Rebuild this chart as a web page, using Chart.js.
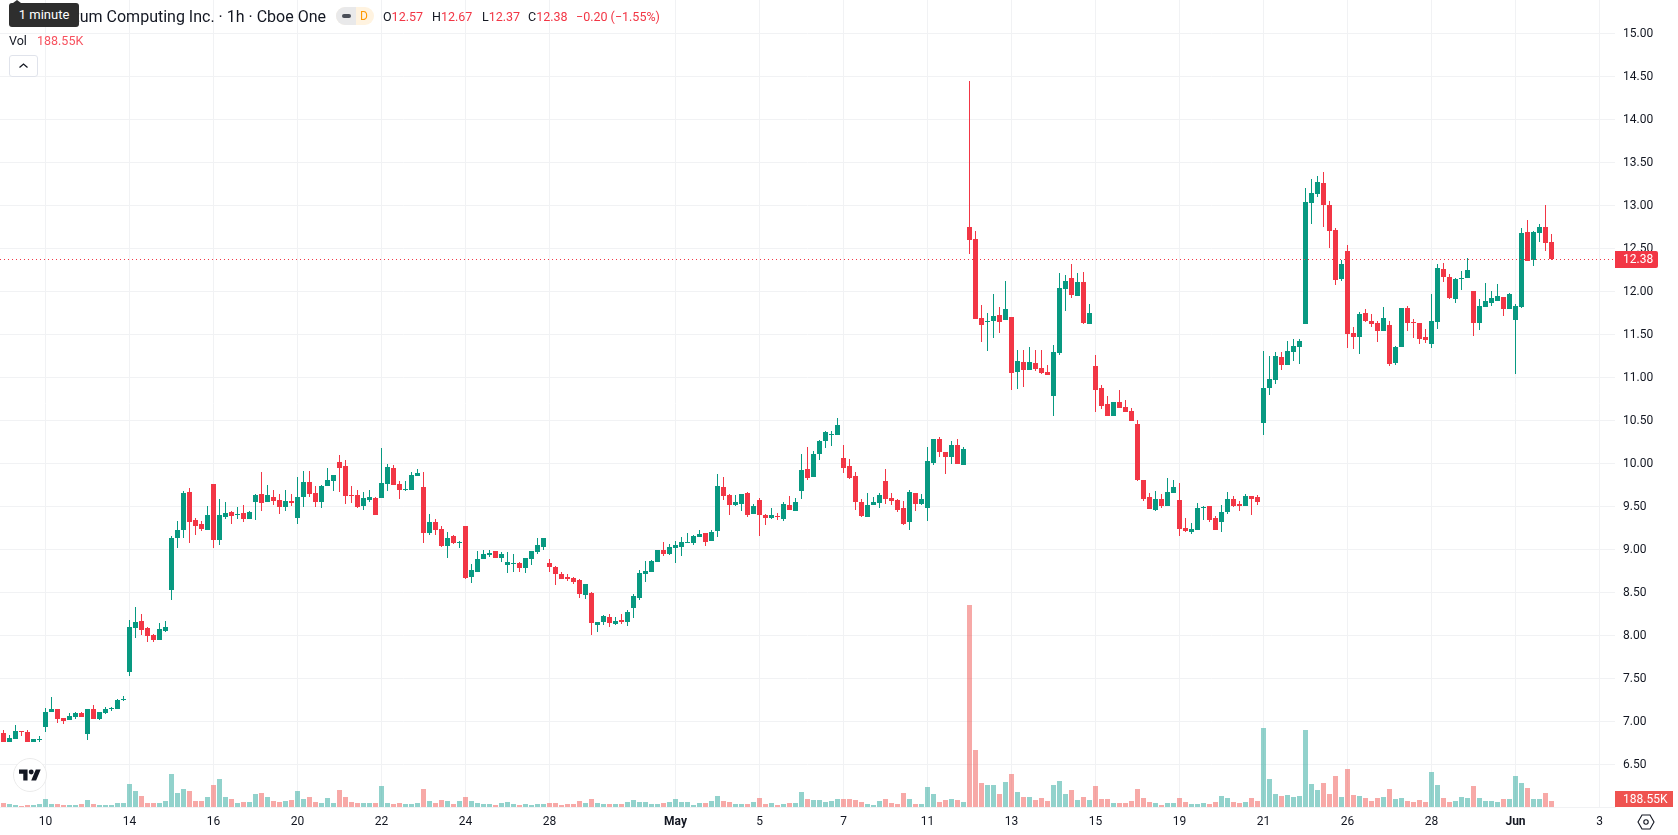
<!DOCTYPE html>
<html>
<head>
<meta charset="utf-8">
<title>Quantum Computing Inc. 1h</title>
<script src="https://cdn.jsdelivr.net/npm/chart.js@4"></script>
<style>
    html, body { margin: 0; padding: 0; background: #fff; }
    body { width: 1678px; height: 835px; position: relative; overflow: hidden; font-family: Roboto, sans-serif; color: #131722; }
    canvas { position: absolute; left: 0; top: 0; }
    .txt { position: absolute; white-space: nowrap; line-height: 16px; }
    .red { color: #f23645; }
    #title { right: 1352px; top: 9px; font-size: 16px; }
    #tip { position: absolute; left: 9px; top: 3px; width: 70px; height: 24px; background: #2e2e2e; border-radius: 3px; color: #fff; font-size: 13px; line-height: 24px; text-align: center; }
    #tipArrow { position: absolute; left: 13px; top: 0; border: 4px solid transparent; border-top: 0; border-bottom: 3px solid #2e2e2e; }
    #pill { position: absolute; left: 336px; top: 7px; width: 38px; height: 18px; border-radius: 9px; overflow: hidden; background: #fff3e0; }
    #pillLeft { position: absolute; left: 0; top: 0; width: 20px; height: 18px; background: #e9e9ea; }
    #pillMinus { position: absolute; left: 6px; top: 7px; width: 9px; height: 4px; border-radius: 2px; background: #4a4e58; }
    #pillD { position: absolute; left: 24px; top: 1px; font-size: 12px; line-height: 16px; color: #ff9800; }
    #chevron { position: absolute; left: 9px; top: 55px; width: 27px; height: 20px; border: 1px solid #e0e3eb; border-radius: 3px; background: #fff; }
    #logo { position: absolute; left: 13px; top: 758px; width: 32px; height: 32px; border: 1px solid #ebebeb; border-radius: 50%; background: #fff; }
    #gear { position: absolute; left: 1637px; top: 814px; }
</style>
</head>
<body>
<canvas id="candleChart" width="1678" height="835"></canvas>

<div class="txt" id="title">Quantum Computing Inc. · 1h · Cboe One</div>
<div id="tipArrow"></div>
<div id="tip">1 minute</div>
<div id="pill"><div id="pillLeft"><div id="pillMinus"></div></div><div id="pillD">D</div></div>
<div class="txt" style="left:383px;top:9px;font-size:12.5px">O<span class="red">12.57</span></div>
<div class="txt" style="left:432px;top:9px;font-size:12.5px">H<span class="red">12.67</span></div>
<div class="txt" style="left:482px;top:9px;font-size:12.5px">L<span class="red">12.37</span></div>
<div class="txt" style="left:528px;top:9px;font-size:12.5px">C<span class="red">12.38</span></div>
<div class="txt red" style="left:576px;top:9px;font-size:12.5px">−0.20 (−1.55%)</div>
<div class="txt" style="left:9px;top:33px;font-size:12.5px">Vol</div>
<div class="txt" style="left:37px;top:33px;font-size:12.5px;color:#f7525f">188.55K</div>
<div id="chevron">
    <svg width="27" height="20" viewBox="0 0 27 20"><path d="M9.5 11.5 L13.5 8 L17.5 11.5" fill="none" stroke="#131722" stroke-width="1.3"/></svg>
</div>
<div id="logo">
    <svg style="position:absolute;left:5px;top:10px" width="22" height="12" viewBox="0 4 36 18"><path d="M14 22H7V11H0V4h14v18zM28 22h-8l7.5-18h8L28 22z" fill="#131722"/><circle cx="20" cy="8" r="4" fill="#131722"/></svg>
</div>
<svg id="gear" width="18" height="16" viewBox="0 0 18 16">
    <path d="M5 1 H13 L17 8 L13 15 H5 L1 8 Z" fill="none" stroke="#131722" stroke-width="1.1"/>
    <circle cx="9" cy="8" r="2.2" fill="none" stroke="#131722" stroke-width="1.1"/>
</svg>

<script>
// One-hour candles, oldest first
const opens = [
    6.86,6.76,6.79,6.89,6.88,6.76,6.79,6.93,7.11,7.14,
    7.04,7.02,7.05,7.10,6.85,7.14,7.03,7.10,7.14,7.14,
    7.25,7.57,8.09,8.17,8.09,8.00,7.95,8.05,8.53,9.13,
    9.22,9.67,9.34,9.29,9.22,9.76,9.11,9.38,9.43,9.40,
    9.42,9.35,9.55,9.64,9.55,9.61,9.57,9.49,9.56,9.37,
    9.61,9.78,9.655,9.55,9.74,9.79,10.02,9.97,9.63,9.63,
    9.50,9.57,9.60,9.60,9.76,9.95,9.76,9.69,9.69,9.85,
    9.725,9.19,9.32,9.24,9.04,9.155,9.07,9.27,8.68,8.74,
    8.89,8.93,8.98,8.90,8.82,8.83,8.84,8.78,8.89,8.97,
    9.03,8.84,8.79,8.71,8.68,8.67,8.64,8.47,8.49,8.12,
    8.155,8.21,8.13,8.18,8.155,8.32,8.43,8.71,8.74,8.85,
    8.99,8.945,9.015,9.03,9.075,9.075,9.145,9.19,9.10,9.21,
    9.725,9.63,9.515,9.53,9.655,9.41,9.575,9.40,9.365,9.39,
    9.35,9.515,9.445,9.68,9.935,9.84,10.11,10.26,10.33,10.33,
    10.06,9.97,9.85,9.55,9.375,9.515,9.54,9.795,9.60,9.575,
    9.48,9.32,9.655,9.53,9.48,10.0,10.28,10.13,10.07,10.21,
    9.98,12.75,12.61,11.69,11.645,11.655,11.725,11.665,11.70,11.06,
    11.18,11.085,11.165,11.11,11.06,10.78,11.285,12.03,12.155,11.945,
    12.11,11.62,11.13,10.875,10.69,10.55,10.71,10.655,10.61,10.46,
    9.805,9.61,9.455,9.585,9.505,9.655,9.575,9.25,9.20,9.225,
    9.48,9.505,9.365,9.32,9.435,9.585,9.53,9.505,9.62,9.61,
    10.47,10.875,10.97,11.235,11.145,11.295,11.35,11.62,13.03,13.13,
    13.26,13.005,12.715,12.145,12.47,11.515,11.47,11.75,11.655,11.63,
    11.54,11.61,11.165,11.35,11.805,11.64,11.63,11.47,11.39,11.645,
    12.26,12.165,11.91,12.145,12.155,12.005,11.63,11.82,11.865,11.89,
    11.935,11.795,11.665,11.82,12.69,12.365,12.68,12.75,12.57
];
const highs = [
    6.90,6.84,6.96,6.89,6.90,6.79,6.83,7.16,7.28,7.14,
    7.04,7.10,7.11,7.11,7.14,7.19,7.11,7.17,7.17,7.26,
    7.29,8.18,8.33,8.25,8.10,8.02,8.14,8.17,9.15,9.33,
    9.68,9.71,9.36,9.33,9.50,9.76,9.59,9.55,9.45,9.49,
    9.52,9.45,9.64,9.90,9.75,9.69,9.64,9.69,9.64,9.84,
    9.91,9.91,9.74,9.75,9.95,9.86,10.10,10.04,9.74,9.69,
    9.67,9.69,9.61,10.18,9.99,9.98,9.79,9.79,9.90,9.93,
    9.90,9.41,9.35,9.27,9.20,9.17,9.10,9.27,8.83,8.98,
    8.99,8.99,8.98,8.97,8.97,8.95,8.85,8.90,8.98,9.13,
    9.13,8.89,8.81,8.735,8.71,8.68,8.655,8.60,8.50,8.155,
    8.24,8.25,8.21,8.25,8.29,8.48,8.76,8.865,8.875,8.99,
    9.085,9.06,9.10,9.145,9.19,9.165,9.225,9.19,9.225,9.875,
    9.84,9.645,9.63,9.645,9.67,9.53,9.60,9.41,9.48,9.42,
    9.55,9.62,9.60,10.11,10.19,10.145,10.27,10.375,10.375,10.53,
    10.21,10.05,9.90,9.585,9.655,9.61,9.655,9.935,9.655,9.585,
    9.56,9.69,9.655,9.645,10.19,10.28,10.31,10.13,10.26,10.28,
    10.19,14.445,12.70,11.84,11.75,11.97,11.82,12.12,11.70,11.32,
    11.32,11.355,11.32,11.32,11.14,11.375,12.21,12.19,12.32,12.21,
    12.225,11.85,11.26,10.91,10.78,10.71,10.85,10.735,10.645,10.505,
    9.805,9.655,9.68,9.645,9.83,9.805,9.77,9.365,9.305,9.54,
    9.505,9.505,9.39,9.515,9.665,9.62,9.56,9.645,9.62,9.63,
    11.305,11.25,11.295,11.295,11.42,11.445,11.445,13.20,13.31,13.34,
    13.39,13.05,12.735,12.365,12.54,11.585,11.76,11.795,11.735,11.655,
    11.82,11.655,11.365,11.805,11.83,11.68,11.63,11.56,11.97,12.32,
    12.33,12.20,12.155,12.235,12.39,12.005,11.91,12.095,12.005,12.085,
    11.935,11.98,11.85,12.735,12.83,12.70,12.78,13.00,12.67
];
const lows = [
    6.76,6.76,6.79,6.83,6.76,6.76,6.76,6.88,7.11,6.98,
    6.97,7.02,7.03,7.05,6.78,7.03,7.02,7.09,7.12,7.14,
    7.24,7.53,7.97,8.00,7.92,7.92,7.95,8.04,8.41,9.02,
    9.13,9.07,9.17,9.21,9.22,9.02,9.05,9.35,9.29,9.35,
    9.32,9.35,9.34,9.44,9.55,9.51,9.41,9.45,9.50,9.29,
    9.49,9.61,9.49,9.48,9.74,9.68,9.67,9.53,9.54,9.48,
    9.46,9.55,9.40,9.60,9.68,9.75,9.585,9.68,9.69,9.85,
    9.07,9.17,9.17,9.03,8.90,9.06,9.02,8.655,8.61,8.74,
    8.89,8.91,8.90,8.85,8.725,8.735,8.735,8.725,8.82,8.95,
    8.99,8.735,8.585,8.655,8.63,8.60,8.43,8.42,8.00,8.04,
    8.12,8.10,8.12,8.13,8.11,8.205,8.41,8.62,8.74,8.85,
    8.92,8.935,8.84,8.92,9.075,9.05,9.145,9.04,9.10,9.145,
    9.575,9.40,9.505,9.445,9.375,9.41,9.155,9.28,9.35,9.34,
    9.33,9.46,9.445,9.585,9.805,9.84,10.04,10.18,10.20,10.33,
    9.89,9.82,9.455,9.375,9.375,9.515,9.48,9.53,9.515,9.435,
    9.28,9.225,9.445,9.515,9.33,9.98,10.07,9.875,9.99,9.99,
    9.98,12.435,11.68,11.41,11.31,11.46,11.515,11.665,10.855,10.865,
    10.89,11.085,11.07,11.04,11.03,10.55,11.26,11.77,11.92,11.945,
    11.62,11.62,10.60,10.63,10.55,10.55,10.645,10.60,10.49,9.795,
    9.56,9.47,9.445,9.48,9.505,9.655,9.155,9.20,9.18,9.225,
    9.34,9.32,9.225,9.20,9.41,9.49,9.445,9.505,9.40,9.515,
    10.33,10.795,10.92,11.085,11.145,11.19,11.155,11.62,12.78,13.10,
    12.75,12.50,12.07,12.12,11.34,11.33,11.27,11.645,11.585,11.41,
    11.54,11.13,11.145,11.35,11.54,11.46,11.39,11.40,11.34,11.56,
    12.11,11.91,11.865,12.015,12.155,11.48,11.55,11.82,11.83,11.89,
    11.71,11.795,11.04,11.805,12.35,12.295,12.57,12.47,12.37
];
const closes = [
    6.76,6.81,6.89,6.88,6.76,6.79,6.80,7.11,7.14,7.03,
    7.00,7.06,7.10,7.05,7.14,7.03,7.11,7.14,7.155,7.25,
    7.26,8.10,8.16,8.06,7.99,7.95,8.07,8.10,9.13,9.22,
    9.65,9.32,9.27,9.24,9.40,9.11,9.40,9.42,9.39,9.41,
    9.35,9.43,9.63,9.54,9.63,9.56,9.49,9.56,9.54,9.61,
    9.78,9.64,9.55,9.74,9.81,9.86,9.95,9.62,9.62,9.49,
    9.60,9.61,9.40,9.77,9.96,9.75,9.69,9.70,9.865,9.89,
    9.19,9.32,9.225,9.04,9.13,9.07,9.085,8.67,8.76,8.89,
    8.95,8.96,8.90,8.945,8.85,8.84,8.78,8.90,8.98,9.05,
    9.13,8.79,8.71,8.655,8.655,8.62,8.48,8.60,8.14,8.155,
    8.23,8.14,8.17,8.155,8.27,8.46,8.725,8.75,8.865,8.99,
    8.945,9.03,9.05,9.085,9.085,9.155,9.18,9.085,9.20,9.735,
    9.62,9.515,9.55,9.645,9.40,9.505,9.40,9.365,9.40,9.385,
    9.53,9.46,9.55,9.92,9.83,10.11,10.26,10.36,10.34,10.445,
    9.945,9.83,9.55,9.39,9.515,9.55,9.63,9.585,9.56,9.455,
    9.295,9.665,9.53,9.585,10.03,10.28,10.13,10.07,10.21,9.99,
    10.165,12.60,11.68,11.61,11.655,11.715,11.645,11.795,11.05,11.19,
    11.085,11.18,11.095,11.05,11.03,11.295,12.04,12.12,11.96,12.11,
    11.63,11.75,10.855,10.67,10.55,10.71,10.645,10.60,10.49,9.805,
    9.585,9.47,9.585,9.505,9.665,9.725,9.235,9.215,9.235,9.48,
    9.49,9.34,9.225,9.435,9.585,9.505,9.505,9.62,9.585,9.55,
    10.875,10.98,11.25,11.145,11.305,11.365,11.42,13.04,13.145,13.27,
    13.005,12.70,12.13,12.32,11.50,11.47,11.735,11.655,11.62,11.54,
    11.69,11.155,11.35,11.805,11.63,11.63,11.445,11.435,11.655,12.27,
    12.165,11.92,12.145,12.155,12.25,11.63,11.83,11.89,11.92,11.945,
    11.795,11.97,11.83,12.68,12.35,12.69,12.75,12.56,12.38
];
// Volume per candle, in thousands of shares
const volumes = [
    126,94,63,31,63,63,94,251,94,94,
    63,63,63,94,220,94,63,63,63,126,
    126,723,503,346,126,126,126,189,1037,440,
    566,503,189,189,314,691,880,314,251,126,
    157,157,409,440,314,189,157,189,220,503,
    251,314,157,126,283,126,534,314,157,126,
    126,126,126,660,126,94,126,94,94,126,
    566,189,126,220,189,94,189,314,189,126,
    94,94,63,126,157,94,63,94,63,94,
    94,126,126,63,94,94,189,126,251,126,
    94,94,94,94,157,220,157,157,94,94,
    126,157,251,157,157,63,126,126,189,346,
    189,157,94,94,94,157,283,94,126,63,
    94,126,126,471,251,220,220,157,189,251,
    251,251,220,157,94,63,189,251,126,94,
    440,251,94,94,628,409,157,220,251,220,
    157,6347,1791,754,691,691,409,785,1037,471,
    314,314,220,283,189,691,817,409,534,220,
    314,220,660,251,251,126,126,126,189,566,
    283,157,126,63,126,126,283,157,94,94,
    126,94,157,346,283,157,126,157,283,189,
    2483,880,409,346,377,314,346,2420,723,534,
    754,409,974,314,1194,377,346,283,189,283,
    314,566,251,283,189,157,220,157,1100,691,
    283,157,189,314,283,660,283,189,189,157,
    251,251,974,754,597,251,251,440,188.55
];

// Date labels along the time axis and the candle index each one sits on
const dateTickIndex = [7, 21, 35, 49, 63, 77, 91, 112, 126, 140, 154, 168, 182, 196, 210, 224, 238, 252, 266];
const dateTickLabels = ['10', '14', '16', '20', '22', '24', '28', 'May', '5', '7', '11', '13', '15', '19', '21', '26', '28', 'Jun', '3'];
const boldLabels = ['May', 'Jun'];

const priceTicks = [6.5, 7, 7.5, 8, 8.5, 9, 9.5, 10, 10.5, 11, 11.5, 12, 12.5, 13, 13.5, 14, 14.5, 15];

const lastPrice = 12.38;
const lastVolume = 188.55;

const UP = '#089981';
const DOWN = '#f23645';
const UP_VOL = 'rgba(38, 166, 154, 0.5)';
const DOWN_VOL = 'rgba(239, 83, 80, 0.5)';
const GRID = '#f1f2f4';
const TEXT = '#131722';

// Candles land on a 6px pitch: window of the x scale, in candle units
const xMin = -3.5 / 6;
const xMax = (1615 - 3.5) / 6;

const candleColor = ctx => closes[ctx.dataIndex] >= opens[ctx.dataIndex] ? UP : DOWN;
const volumeColor = ctx => closes[ctx.dataIndex] >= opens[ctx.dataIndex] ? UP_VOL : DOWN_VOL;

// Snap bar edges and the last-price line to whole pixels so candles stay sharp
const pixelSnap = {
    id: 'pixelSnap',
    afterDatasetsUpdate(chart) {
        chart.data.datasets.forEach((ds, i) => {
            chart.getDatasetMeta(i).data.forEach(el => {
                if (ds.type === 'line') {
                    el.y = Math.round(el.y) + 0.5;
                    return;
                }
                const top = Math.round(Math.min(el.y, el.base));
                const bottom = Math.max(Math.round(Math.max(el.y, el.base)), top + 1);
                el.y = top;
                el.base = bottom;
                el.height = bottom - top;
            });
        });
    },
    // Nudge the price labels down a pixel so they sit centred on their grid lines
    beforeDraw(chart) {
        chart.scales.y.getLabelItems().forEach(item => {
            item.options.translation[1] += 1;
        });
    }
};

// Value tags sitting on the price axis
const axisTags = {
    id: 'axisTags',
    afterDraw(chart) {
        const c = chart.ctx;
        const yScale = chart.scales.y;
        const volScale = chart.scales.vol;
        const left = chart.chartArea.right;

        const priceY = Math.round(yScale.getPixelForValue(lastPrice));
        c.save();
        c.fillStyle = DOWN;
        c.beginPath();
        c.roundRect(left, priceY - 8, 43, 17, [0, 2, 2, 0]);
        c.fill();
        c.fillStyle = '#fff';
        c.font = '12px Roboto';
        c.textBaseline = 'middle';
        c.fillText(lastPrice.toFixed(2), left + 8, priceY + 1);

        const volBottom = Math.round(volScale.getPixelForValue(0));
        c.fillStyle = '#ef5350';
        c.fillRect(left, volBottom - 16, 58, 16);
        c.fillStyle = '#fff';
        c.fillText(lastVolume.toFixed(2) + 'K', left + 8, volBottom - 7.5);
        c.restore();
    }
};

const candleChart = new Chart(document.getElementById('candleChart'), {
    data: {
        datasets: [
            {
                type: 'line',
                data: [{ x: xMin, y: lastPrice }, { x: xMax, y: lastPrice }],
                borderColor: DOWN,
                borderWidth: 1,
                borderDash: [1, 3],
                pointRadius: 0,
                yAxisID: 'y',
                order: 0
            },
            {
                type: 'bar',
                data: opens.map((o, i) => ({ x: i, y: [o, closes[i]] })),
                backgroundColor: candleColor,
                barThickness: 5,
                grouped: false,
                inflateAmount: 0,
                yAxisID: 'y',
                order: 1
            },
            {
                type: 'bar',
                data: highs.map((h, i) => ({ x: i, y: [lows[i], h] })),
                backgroundColor: candleColor,
                barThickness: 1,
                grouped: false,
                inflateAmount: 0,
                yAxisID: 'y',
                order: 2
            },
            {
                type: 'bar',
                data: volumes.map((v, i) => ({ x: i, y: v })),
                backgroundColor: volumeColor,
                barThickness: 5,
                grouped: false,
                inflateAmount: 0,
                yAxisID: 'vol',
                order: 3
            }
        ]
    },
    options: {
        responsive: false,
        animation: false,
        events: [],
        layout: { padding: 0 },
        plugins: {
            legend: { display: false },
            tooltip: { enabled: false }
        },
        scales: {
            x: {
                type: 'linear',
                bounds: 'data',
                offset: false,
                min: xMin,
                max: xMax,
                afterBuildTicks: scale => {
                    scale.ticks = dateTickIndex.map(v => ({ value: v }));
                },
                afterFit: scale => {
                    scale.height = 28;
                    scale.paddingLeft = 0;
                    scale.paddingRight = 0;
                },
                grid: { color: GRID, drawTicks: false, offset: false },
                border: { display: true, color: GRID },
                ticks: {
                    autoSkip: false,
                    maxRotation: 0,
                    padding: 8,
                    color: TEXT,
                    callback: value => dateTickLabels[dateTickIndex.indexOf(value)],
                    font: ctx => {
                        const label = dateTickLabels[dateTickIndex.indexOf(ctx.tick ? ctx.tick.value : -1)];
                        return { family: 'Roboto', size: 12, weight: boldLabels.includes(label) ? 'bold' : 'normal' };
                    }
                }
            },
            y: {
                type: 'linear',
                position: 'right',
                bounds: 'data',
                min: 6.0039,
                max: 15.3876,
                afterBuildTicks: scale => {
                    scale.ticks = priceTicks.map(v => ({ value: v }));
                },
                afterFit: scale => {
                    scale.width = 63;
                    scale.paddingTop = 0;
                    scale.paddingBottom = 0;
                },
                grid: { color: GRID, drawTicks: false },
                border: { display: false },
                ticks: {
                    autoSkip: false,
                    padding: 8,
                    color: TEXT,
                    font: { family: 'Roboto', size: 12 },
                    callback: value => value.toFixed(2)
                }
            },
            // Hidden volume scale: bars share the price pane, pinned to its bottom edge
            vol: {
                type: 'linear',
                display: false,
                bounds: 'data',
                min: 0,
                max: 25356
            }
        }
    },
    plugins: [pixelSnap, axisTags]
});
</script>
</body>
</html>
